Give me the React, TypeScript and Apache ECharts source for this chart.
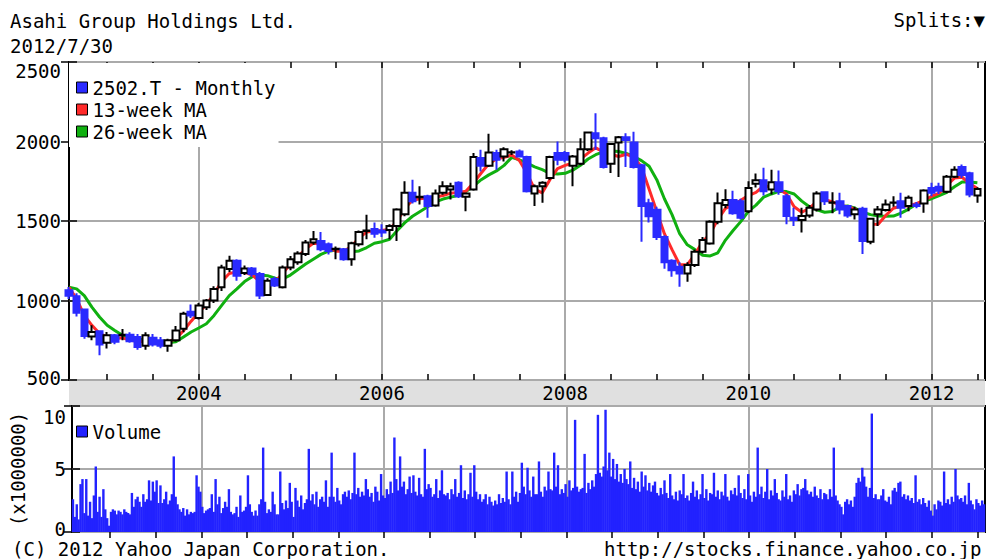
import React, { useEffect, useRef } from 'react';
import * as echarts from 'echarts';

// x position = months since 2002-08 (month start)
const yearTicks = [17, 41, 65, 89, 113];
const yearLabels = ['2004', '2006', '2008', '2010', '2012'];
const halfYearTicks: number[] = [];
for (let t = 5; t <= 119; t += 6) halfYearTicks.push(t);

const opens = [
  1065, 1027, 944, 773, 806, 735, 781, 781, 785, 771,
  715, 765, 750, 715, 750, 823, 930, 890, 958, 1000,
  1083, 1198, 1250, 1173, 1202, 1167, 1035, 1135, 1083, 1208,
  1240, 1292, 1365, 1375, 1354, 1323, 1323, 1260, 1354, 1437,
  1450, 1440, 1444, 1469, 1542, 1677, 1650, 1656, 1598, 1677,
  1698, 1740, 1652, 1698, 1896, 1848, 1927, 1906, 1931, 1937,
  1902, 1673, 1719, 1771, 1927, 1927, 1848, 1860, 1952, 2052,
  2021, 1860, 1994, 2027, 1994, 1850, 1611, 1570, 1400, 1250,
  1212, 1170, 1223, 1307, 1359, 1496, 1600, 1632, 1625, 1562,
  1735, 1756, 1698, 1744, 1656, 1521, 1506, 1535, 1573, 1681,
  1614, 1625, 1594, 1542, 1577, 1369, 1542, 1569, 1614, 1625,
  1594, 1604, 1610, 1708, 1716, 1684, 1779, 1840, 1800, 1660,
];
const closes = [
  1030, 923, 777, 802, 723, 781, 740, 785, 744, 708,
  781, 723, 715, 750, 812, 917, 905, 969, 1000, 1073,
  1208, 1250, 1156, 1202, 1167, 1031, 1125, 1094, 1208, 1260,
  1296, 1365, 1385, 1323, 1312, 1325, 1260, 1360, 1431, 1440,
  1420, 1428, 1469, 1573, 1677, 1625, 1652, 1594, 1673, 1719,
  1719, 1656, 1673, 1902, 1848, 1931, 1885, 1952, 1933, 1906,
  1687, 1719, 1740, 1902, 1885, 1885, 1906, 1952, 2056, 2021,
  1839, 1985, 2027, 2010, 1839, 1594, 1530, 1400, 1240, 1190,
  1170, 1223, 1307, 1380, 1496, 1611, 1632, 1548, 1521, 1708,
  1756, 1687, 1744, 1687, 1531, 1506, 1531, 1583, 1673, 1625,
  1616, 1573, 1535, 1573, 1375, 1514, 1573, 1604, 1616, 1583,
  1646, 1594, 1692, 1677, 1690, 1779, 1823, 1790, 1667, 1702,
];
const lows = [
  1010, 900, 760, 750, 656, 698, 725, 750, 735, 690,
  690, 710, 700, 677, 740, 800, 890, 880, 940, 985,
  1060, 1180, 1125, 1160, 1150, 1010, 1030, 1085, 1075, 1190,
  1225, 1280, 1350, 1310, 1290, 1260, 1250, 1219, 1340, 1385,
  1395, 1400, 1385, 1375, 1530, 1610, 1604, 1521, 1590, 1665,
  1635, 1645, 1562, 1690, 1812, 1840, 1823, 1875, 1915, 1900,
  1680, 1594, 1614, 1760, 1850, 1870, 1719, 1850, 1940, 1948,
  1830, 1802, 1777, 1839, 1830, 1369, 1490, 1380, 1200, 1150,
  1087, 1118, 1210, 1295, 1350, 1480, 1580, 1540, 1510, 1550,
  1710, 1660, 1667, 1665, 1479, 1469, 1427, 1520, 1560, 1600,
  1548, 1542, 1520, 1510, 1292, 1354, 1469, 1560, 1590, 1521,
  1562, 1580, 1552, 1656, 1670, 1675, 1770, 1770, 1650, 1615,
];
const highs = [
  1085, 1045, 950, 844, 810, 802, 790, 820, 800, 790,
  800, 790, 770, 760, 840, 930, 975, 985, 1010, 1090,
  1225, 1281, 1260, 1220, 1210, 1180, 1140, 1150, 1220, 1280,
  1310, 1380, 1437, 1431, 1365, 1340, 1330, 1370, 1440, 1540,
  1490, 1480, 1480, 1580, 1750, 1760, 1719, 1665, 1698, 1750,
  1740, 1750, 1680, 1927, 1948, 2048, 1948, 1964, 1945, 1950,
  1910, 1730, 1750, 1910, 2000, 1940, 1915, 2021, 2060, 2177,
  2030, 1990, 2035, 2052, 2062, 1860, 1640, 1590, 1410, 1260,
  1240, 1240, 1320, 1400, 1505, 1680, 1700, 1690, 1640, 1750,
  1798, 1835, 1823, 1817, 1670, 1583, 1583, 1600, 1687, 1687,
  1681, 1677, 1600, 1590, 1590, 1520, 1594, 1635, 1656, 1677,
  1660, 1620, 1700, 1740, 1740, 1790, 1845, 1855, 1810, 1712,
];
const ma13 = [
  1083, 1010, 906, 844, 792, 771, 760, 765, 750, 744,
  740, 740, 729, 740, 760, 810, 870, 925, 975, 1040,
  1120, 1170, 1180, 1177, 1160, 1120, 1104, 1120, 1170, 1230,
  1275, 1325, 1360, 1355, 1330, 1310, 1310, 1340, 1395, 1430,
  1437, 1440, 1448, 1500, 1580, 1630, 1640, 1646, 1650, 1660,
  1675, 1680, 1687, 1740, 1802, 1860, 1890, 1900, 1915, 1880,
  1800, 1700, 1677, 1760, 1830, 1850, 1865, 1890, 1927, 1960,
  1935, 1920, 1906, 1920, 1900, 1840, 1700, 1560, 1420, 1320,
  1225, 1225, 1290, 1370, 1420, 1510, 1580, 1600, 1630, 1660,
  1680, 1720, 1715, 1700, 1670, 1590, 1555, 1580, 1625, 1635,
  1620, 1600, 1590, 1575, 1530, 1480, 1480, 1535, 1580, 1594,
  1594, 1610, 1630, 1655, 1675, 1725, 1770, 1775, 1735, 1705,
];
const ma26 = [
  1083, 1073, 1031, 958, 896, 844, 812, 781, 765, 760,
  750, 744, 740, 735, 740, 771, 802, 827, 854, 906,
  969, 1031, 1073, 1119, 1150, 1160, 1156, 1140, 1135, 1160,
  1195, 1229, 1260, 1290, 1310, 1318, 1312, 1306, 1312, 1333,
  1360, 1370, 1385, 1440, 1490, 1530, 1560, 1590, 1620, 1638,
  1650, 1660, 1685, 1720, 1760, 1790, 1815, 1850, 1900, 1885,
  1865, 1840, 1823, 1800, 1795, 1800, 1820, 1850, 1890, 1917,
  1935, 1940, 1937, 1925, 1906, 1880, 1844, 1760, 1640, 1540,
  1420, 1350, 1320, 1285, 1280, 1300, 1380, 1440, 1496, 1560,
  1600, 1650, 1670, 1687, 1685, 1670, 1625, 1590, 1570, 1555,
  1560, 1590, 1594, 1580, 1555, 1540, 1531, 1530, 1531, 1550,
  1575, 1605, 1625, 1640, 1660, 1680, 1715, 1745, 1745, 1740,
];
// weekly volume (x1,000,000 shares), 4 per month
const volume = [
  2.6, 1.2, 2.2, 1.0, 3.8, 4.2, 1.5, 4.2, 1.3, 2.4, 1.1, 2.9, 5.2, 1.6, 2.8, 1.2,
  3.4, 1.8, 1.1, 0.5, 1.6, 1.8, 1.7, 1.4, 1.7, 1.6, 1.4, 1.8, 1.6, 1.5, 1.4, 3.1,
  2.0, 2.6, 2.8, 2.4, 2.0, 3.0, 2.4, 2.6, 4.1, 2.5, 4.0, 3.2, 4.1, 2.3, 3.7, 2.3,
  2.6, 3.2, 2.2, 2.5, 3.0, 6.0, 2.8, 2.2, 1.8, 1.6, 1.9, 1.3, 1.8, 1.4, 1.6, 1.5,
  1.6, 4.5, 3.6, 3.2, 2.0, 1.5, 1.7, 1.8, 1.9, 3.0, 1.6, 4.2, 2.2, 2.8, 1.5, 1.9,
  2.4, 2.0, 3.4, 1.6, 1.4, 1.5, 2.0, 1.2, 2.9, 1.6, 1.7, 2.0, 4.5, 2.2, 1.6, 1.3,
  1.7, 1.3, 2.2, 2.6, 6.7, 2.4, 1.5, 1.8, 1.6, 3.2, 2.2, 1.4, 1.4, 4.8, 2.3, 1.8,
  2.5, 1.9, 3.9, 2.4, 1.2, 3.5, 2.5, 2.0, 2.9, 1.8, 2.3, 2.6, 6.6, 2.5, 3.0, 2.2,
  3.2, 2.0, 2.6, 2.8, 2.4, 4.1, 2.0, 2.8, 6.3, 2.8, 2.4, 3.5, 2.5, 2.2, 3.0, 3.2,
  2.8, 3.3, 2.6, 3.1, 6.3, 3.0, 3.5, 2.8, 3.2, 2.9, 4.2, 3.4, 2.8, 3.1, 2.4, 3.6,
  3.2, 2.5, 4.6, 2.9, 2.7, 3.4, 3.0, 4.0, 3.1, 7.5, 4.2, 3.3, 6.0, 3.6, 4.0, 3.0,
  3.4, 4.4, 3.1, 4.5, 3.2, 2.9, 4.3, 3.0, 2.8, 6.6, 3.4, 3.8, 3.5, 2.8, 3.0, 4.2,
  2.7, 3.3, 4.9, 3.0, 2.9, 3.1, 2.6, 3.4, 3.0, 4.2, 2.8, 3.1, 5.3, 2.7, 3.3, 2.6,
  3.0, 4.7, 2.8, 5.3, 3.2, 2.6, 3.0, 2.4, 2.6, 3.0, 2.2, 2.8, 2.4, 2.1, 2.5, 2.2,
  3.0, 2.3, 2.7, 2.4, 4.8, 2.6, 2.2, 4.8, 2.8, 3.2, 2.4, 3.1, 5.5, 3.6, 3.0, 5.1,
  3.3, 2.8, 4.4, 3.0, 3.0, 5.6, 3.2, 2.8, 3.6, 3.3, 4.8, 3.4, 3.3, 6.3, 3.6, 5.3,
  3.0, 3.4, 3.1, 3.8, 2.8, 4.1, 3.3, 3.5, 8.9, 3.6, 3.2, 3.4, 3.5, 6.2, 3.1, 3.9,
  3.4, 4.1, 3.6, 4.6, 9.3, 4.7, 4.4, 5.2, 9.7, 4.9, 6.3, 4.4, 5.8, 4.2, 5.4, 4.0,
  4.6, 3.9, 5.0, 4.2, 3.8, 5.6, 3.5, 4.3, 3.4, 4.0, 3.2, 4.8, 3.6, 4.5, 3.3, 3.9,
  3.2, 3.7, 4.0, 3.1, 2.9, 3.5, 3.0, 4.1, 3.1, 2.7, 4.6, 2.9, 2.6, 3.2, 2.5, 3.3,
  3.0, 4.6, 2.7, 2.9, 2.5, 3.1, 4.0, 2.8, 3.3, 2.6, 3.0, 4.6, 2.7, 3.4, 2.5, 3.1,
  3.0, 4.7, 2.8, 3.3, 2.6, 3.2, 2.9, 4.6, 2.8, 2.5, 3.3, 3.0, 3.5, 2.9, 4.5, 3.1,
  2.7, 3.4, 2.6, 4.6, 2.9, 2.4, 3.2, 2.8, 6.7, 3.0, 3.6, 2.7, 3.2, 5.0, 2.6, 3.3,
  2.9, 4.2, 3.1, 2.6, 2.5, 3.3, 2.8, 4.6, 2.6, 2.9, 2.4, 3.3, 3.0, 3.8, 2.9, 3.4,
  3.5, 4.2, 3.3, 3.0, 3.2, 2.8, 3.6, 2.9, 2.7, 3.4, 2.6, 3.1, 3.0, 2.6, 3.4, 2.8,
  6.7, 2.9, 2.5, 2.2, 2.0, 1.4, 2.4, 2.6, 2.2, 2.5, 2.0, 2.8, 3.9, 4.3, 4.0, 5.1,
  4.4, 3.6, 2.8, 3.5, 9.4, 2.7, 3.0, 2.6, 2.6, 2.9, 3.4, 2.5, 2.4, 2.8, 2.2, 3.3,
  3.5, 3.2, 3.9, 4.0, 2.8, 3.0, 2.6, 2.9, 2.5, 2.7, 2.3, 4.5, 2.4, 2.6, 2.2, 2.7,
  2.3, 2.0, 2.5, 1.7, 1.3, 2.2, 1.8, 2.5, 2.4, 2.1, 4.8, 2.3, 2.6, 2.2, 2.8, 2.4,
  5.0, 2.9, 2.6, 2.7, 2.4, 2.9, 2.2, 3.9, 2.5, 2.2, 1.8, 2.6, 2.3, 2.1, 2.5, 2.2,
];

const FONT = 'DejaVu Sans Mono';
const BLUE = '#2a2aff';
const RED = '#ff2a2a';
const GREEN = '#10b010';
const GRID_GRAY = '#aaaaaa';
const txt = { fontFamily: FONT, fontSize: 19, color: '#000', fontWeight: 'normal' as const };
const footTxt = { ...txt, lineHeight: 18 };

export default function App() {
  const ref = useRef<HTMLDivElement>(null);
  useEffect(() => {
    if (!ref.current) return;
    const chart = echarts.init(ref.current, undefined, { renderer: 'svg' });
    const xBase = { type: 'value' as const, min: 0, max: 120 };
    const tickStyle = { color: '#000', width: 1.5 };
    chart.setOption({
      animation: false,
      backgroundColor: '#fff',
      title: [
        { text: 'Asahi Group Holdings Ltd.', left: 10, top: 11, padding: 0, textStyle: txt },
        { text: '2012/7/30', left: 10, top: 36, padding: 0, textStyle: txt },
        { text: 'Splits:▼', right: 8, top: 10, padding: 0, textStyle: txt },
        { text: '(C) 2012 Yahoo Japan Corporation.', left: 12, top: 540, padding: 0, textStyle: footTxt },
        { text: 'http://stocks.finance.yahoo.co.jp', left: 604, top: 540, padding: 0, textStyle: footTxt },
      ],
      graphic: [
        { type: 'rect', z: -10, shape: { x: 69, y: 380, width: 916, height: 26 }, style: { fill: '#e0e0e0' } },
      ],
      legend: [
        {
          data: [
            { name: '2502.T - Monthly', itemStyle: { color: BLUE } },
            { name: '13-week MA', itemStyle: { color: RED } },
            { name: '26-week MA', itemStyle: { color: GREEN } },
          ],
          orient: 'vertical', left: 69, top: 63, padding: [15, 3, 6, 7], itemGap: 3,
          itemWidth: 11, itemHeight: 11, icon: 'rect', backgroundColor: '#fff',
          itemStyle: { borderColor: '#000', borderWidth: 1 },
          textStyle: txt, selectedMode: false, z: 5,
        },
        {
          data: [{ name: 'Volume', itemStyle: { color: '#2222ff' } }],
          orient: 'vertical', left: 69, top: 419, padding: [3, 3, 3, 7],
          itemWidth: 11, itemHeight: 11, icon: 'rect',
          itemStyle: { borderColor: '#000', borderWidth: 1 },
          textStyle: txt, selectedMode: false, z: 5,
        },
      ],
      grid: [
        { left: 69, top: 62, width: 916, height: 318, show: true, borderColor: '#000', borderWidth: 2 },
        { left: 69, top: 406, width: 916, height: 126, show: true, borderColor: '#000', borderWidth: 2 },
      ],
      xAxis: [
        {
          ...xBase, gridIndex: 0, position: 'bottom',
          axisLine: { show: false },
          axisTick: { show: false, customValues: yearTicks },
          splitLine: { show: true, lineStyle: { color: GRID_GRAY, width: 2 } },
          axisLabel: {
            show: true, customValues: yearTicks, margin: 3, ...txt,
            formatter: (v: number) => yearLabels[yearTicks.indexOf(Math.round(v))] ?? '',
          },
        },
        {
          ...xBase, gridIndex: 0, position: 'top',
          axisLine: { show: false },
          axisTick: { show: true, inside: true, length: 6, customValues: halfYearTicks, lineStyle: tickStyle },
          axisLabel: { show: false }, splitLine: { show: false },
        },
        {
          ...xBase, gridIndex: 0, position: 'bottom',
          axisLine: { show: false },
          axisTick: { show: true, inside: true, length: 6, customValues: halfYearTicks, lineStyle: tickStyle },
          axisLabel: { show: false }, splitLine: { show: false },
        },
        {
          ...xBase, gridIndex: 1, position: 'bottom',
          axisLine: { show: false },
          axisTick: { show: false, customValues: yearTicks },
          splitLine: { show: true, lineStyle: { color: GRID_GRAY, width: 2 } },
          axisLabel: { show: false },
        },
        {
          ...xBase, gridIndex: 1, position: 'top',
          axisLine: { show: false },
          axisTick: { show: true, inside: true, length: 6, customValues: halfYearTicks, lineStyle: tickStyle },
          axisLabel: { show: false }, splitLine: { show: false },
        },
      ],
      yAxis: [
        {
          gridIndex: 0, type: 'value', min: 500, max: 2500, interval: 500, position: 'left',
          axisLine: { show: false },
          axisTick: { show: true, inside: true, length: 8, lineStyle: tickStyle },
          splitLine: { show: true, lineStyle: { color: GRID_GRAY, width: 2 } },
          axisLabel: {
            margin: 8, ...txt,
            formatter: (v: number) => (v === 2500 ? '{t|2500}' : v === 500 ? '{b|500}' : String(v)),
            rich: {
              t: { ...txt, padding: [18, 0, 0, 0] },
              b: { ...txt, lineHeight: 10, padding: [0, 0, 4, 0] },
            },
          },
        },
        {
          gridIndex: 0, type: 'value', min: 500, max: 2500, interval: 500, position: 'right',
          axisLine: { show: false },
          axisTick: { show: true, inside: true, length: 8, lineStyle: tickStyle },
          splitLine: { show: false }, axisLabel: { show: false },
        },
        {
          gridIndex: 1, type: 'value', min: 0, max: 10, interval: 5, position: 'left',
          name: '(x1000000)', nameLocation: 'middle', nameRotate: 90, nameGap: 45,
          nameTextStyle: txt,
          axisLine: { show: false },
          axisTick: { show: true, inside: true, length: 8, lineStyle: tickStyle },
          splitLine: { show: true, lineStyle: { color: GRID_GRAY, width: 2 } },
          axisLabel: {
            margin: 6, ...txt,
            formatter: (v: number) => (v === 10 ? '{t|10}' : v === 0 ? '{b|0}' : String(v)),
            rich: {
              t: { ...txt, padding: [21, 0, 0, 0] },
              b: { ...txt, lineHeight: 10, padding: [0, 0, 7, 0] },
            },
          },
        },
        {
          gridIndex: 1, type: 'value', min: 0, max: 10, interval: 5, position: 'right',
          axisLine: { show: false },
          axisTick: { show: true, inside: true, length: 8, lineStyle: tickStyle },
          splitLine: { show: false }, axisLabel: { show: false },
        },
      ],
      series: [
        {
          name: '26-week MA', type: 'line', xAxisIndex: 0, yAxisIndex: 0,
          data: ma26.map((v, i) => [i, v]), showSymbol: false, symbol: 'none',
          lineStyle: { color: GREEN, width: 3 }, itemStyle: { color: GREEN }, z: 2,
        },
        {
          name: '13-week MA', type: 'line', xAxisIndex: 0, yAxisIndex: 0,
          data: ma13.map((v, i) => [i, v]), showSymbol: false, symbol: 'none',
          lineStyle: { color: RED, width: 3 }, itemStyle: { color: RED }, z: 2,
        },
        {
          name: '2502.T - Monthly', type: 'candlestick', xAxisIndex: 0, yAxisIndex: 0,
          data: opens.map((o, i) => [i, o, closes[i], lows[i], highs[i]]),
          encode: { x: 0, y: [1, 2, 3, 4] },
          barWidth: 7, clip: true, z: 3,
          itemStyle: { color: '#ffffff', color0: BLUE, borderColor: '#000000', borderColor0: BLUE, borderWidth: 2 },
        },
        {
          name: 'Volume', type: 'bar', xAxisIndex: 3, yAxisIndex: 2,
          data: volume.map((v, i) => [i / 4 + 0.125, v]),
          barWidth: 2.4, itemStyle: { color: '#2222ff' }, z: 2,
        },
      ],
    });
    return () => chart.dispose();
  }, []);
  return <div ref={ref} style={{ position: 'absolute', left: 0, top: 0, width: 993, height: 559 }} />;
}
